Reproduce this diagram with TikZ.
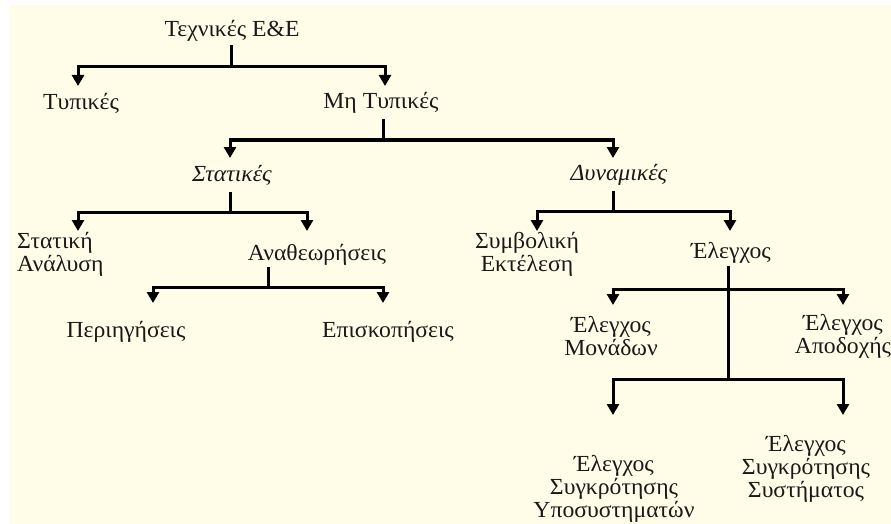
\documentclass[tikz,border=0pt]{standalone}
\usepackage{fontspec}
\setmainfont[FakeStretch=1.03]{Liberation Serif}
\usetikzlibrary{arrows.meta}
\definecolor{paper}{RGB}{255,253,232}
\definecolor{ink}{RGB}{25,25,25}
\tikzset{
  lbl/.style={inner sep=0pt, text=ink, font=\fontsize{23}{23}\selectfont, align=center},
  ilbl/.style={lbl, font=\fontsize{23}{23}\selectfont\itshape},
  stem/.style={draw=black, line width=3pt},
  arr/.style={draw=black, line width=3pt, -{Triangle[width=12pt,length=11pt]}},
}
\begin{document}
\begin{tikzpicture}[x=1pt,y=-1pt]
  % page and cream background
  \fill[white] (0,0) rectangle (891,524);
  \fill[paper] (10,5) rectangle (891,524);
  \useasboundingbox (0,0) rectangle (891,524);

  % labels
  \node[lbl]  (root)  at (232,31)  {Τεχνικές Ε\&Ε};
  \node[lbl]  (typ)   at (81,103)  {Τυπικές};
  \node[lbl]  (mtyp)  at (381,103) {Μη Τυπικές};
  \node[ilbl] (stat)  at (232,175) {Στατικές};
  \node[ilbl] (dyn)   at (619,175) {Δυναμικές};
  \node[lbl, anchor=west, align=left] (sa) at (17,254) {Στατική\\Ανάλυση};
  \node[lbl]  (anath) at (317,255) {Αναθεωρήσεις};
  \node[lbl]  (peri)  at (126,332) {Περιηγήσεις};
  \node[lbl]  (epis)  at (388,332) {Επισκοπήσεις};
  \node[lbl]  (symb)  at (527,254) {Συμβολική\\Εκτέλεση};
  \node[lbl]  (eleg)  at (731,253) {Έλεγχος};
  \node[lbl]  (mon)   at (611,336) {Έλεγχος\\Μονάδων};
  \node[lbl]  (apod)  at (843,336) {Έλεγχος\\Αποδοχής};
  \node[lbl]  (ypo)   at (614,489) {Έλεγχος\\Συγκρότησης\\Υποσυστηματών};
  \node[lbl]  (sys)   at (806,469) {Έλεγχος\\Συγκρότησης\\Συστήματος};

  % junctions on the horizontal bars and arrow tips
  \coordinate (j1) at (231,67);
  \coordinate (t-typ) at (78,86);   \coordinate (t-mtyp) at (385,86);
  \coordinate (j2) at (383,140);
  \coordinate (t-stat) at (230,158); \coordinate (t-dyn) at (613,158);
  \coordinate (j3) at (230,212);
  \coordinate (t-sa) at (78,231);   \coordinate (t-anath) at (307,231);
  \coordinate (j4) at (613,211);
  \coordinate (t-symb) at (537,231); \coordinate (t-eleg) at (730,231);
  \coordinate (j5) at (268,287);
  \coordinate (t-peri) at (153,303); \coordinate (t-epis) at (383,303);
  \coordinate (j6) at (728,289);
  \coordinate (t-mon) at (613,305);  \coordinate (t-apod) at (843,305);
  \coordinate (j7) at (728,379);
  \coordinate (t-ypo) at (613,415);  \coordinate (t-sys) at (843,415);

  % Τεχνικές Ε&Ε
  \draw[stem] (j1 |- root.south) ++(0,3) -- (j1);
  \draw[arr] (j1) -| (t-typ);
  \draw[arr] (j1) -| (t-mtyp);
  % Μη Τυπικές
  \draw[stem] (j2 |- mtyp.south) ++(0,5) -- (j2);
  \draw[arr] (j2) -| (t-stat);
  \draw[arr] (j2) -| (t-dyn);
  % Στατικές
  \draw[stem] (j3 |- stat.south) ++(0,7) -- (j3);
  \draw[arr] (j3) -| (t-sa);
  \draw[arr] (j3) -| (t-anath);
  % Δυναμικές
  \draw[stem] (j4 |- dyn.south) ++(0,5) -- (j4);
  \draw[arr] (j4) -| (t-symb);
  \draw[arr] (j4) -| (t-eleg);
  % Αναθεωρήσεις
  \draw[stem] (j5 |- anath.south) ++(0,1) -- (j5);
  \draw[arr] (j5) -| (t-peri);
  \draw[arr] (j5) -| (t-epis);
  % Έλεγχος
  \draw[stem] (j7 |- eleg.south) ++(0,2) -- (j7);
  \draw[arr] (j6) -| (t-mon);
  \draw[arr] (j6) -| (t-apod);
  \draw[arr] (j7) -| (t-ypo);
  \draw[arr] (j7) -| (t-sys);
\end{tikzpicture}
\end{document}
